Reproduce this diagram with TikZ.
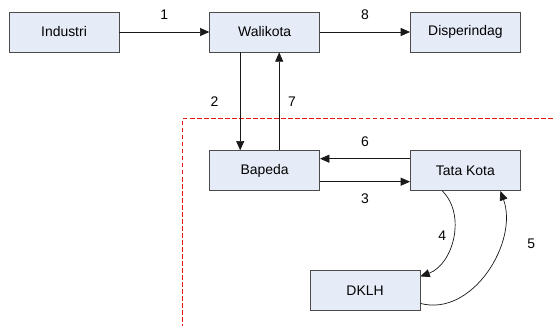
\documentclass[tikz,border=0pt]{standalone}
\usepackage{fontspec}
\setmainfont{Liberation Sans}
\usetikzlibrary{arrows.meta,
                calc, chains,
                quotes,
                positioning}
\definecolor{boxfill}{RGB}{230,236,247}
\definecolor{boxline}{RGB}{75,75,75}
\definecolor{lineclr}{RGB}{25,25,25}
\definecolor{borderred}{RGB}{235,20,20}

\begin{document}
\begin{tikzpicture}[
            node distance = 29.4mm and 27mm,
            start chain = A going right,
            font = \fontsize{11.9}{14}\selectfont,
            base/.style = {draw=boxline, fill=boxfill, line width=0.6pt,
                    minimum width=33mm, minimum height=12mm, align=center},
            toprow/.style = {base, on chain=A},
            link/.style = {draw=lineclr, line width=0.6pt,
                    arrows=-{Triangle[length=2.8mm, width=2.4mm]}},
            every edge quotes/.style = {midway, anchor=center, inner sep=0pt}]

        \node [toprow]          {Industri}; % A-1
        \node [toprow]          {Walikota}; % A-2
        \node [toprow]          {Disperindag}; % A-3

        % Bawah
        \node [base,
            below =of A-2] (B-1) {Bapeda};
        \node [base,
            right =of B-1] (B-2) {Tata Kota};
        \coordinate (mid) at ($(B-1.south)!0.5!(B-2.south)$);
        \node [base,
            below =23.7mm of mid] (C) {DKLH};

        % Batas
        \coordinate (NW) at ($(A-1.center)+(-1.92,0.96)$);
        \coordinate (SE) at ($(A-1.center)+(14.67,-8.82)$);
        \useasboundingbox (NW) rectangle (SE);
        \coordinate (corner) at ($(B-1.north west)+(-0.8,0.96)$);
        \draw [borderred, line width=1.3pt, dash pattern=on 4pt off 2pt]
        (corner -| SE) -- (corner) -- (corner |- SE);
        %%
        \path [every edge/.style={link}]
        (A-1) edge ["1" yshift=15pt] (A-2)
        (A-2) edge ["8" yshift=15pt] (A-3)
        ([xshift=-7.35mm] A-2.south) edge ["2" xshift=-22pt] ([xshift=-7.35mm] B-1.north)
        ([xshift=4.35mm] B-1.north) edge ["7" xshift=11pt] ([xshift=4.35mm] A-2.south)
        ([yshift=3.6mm] B-2.west) edge ["6" yshift=14.5pt] ([yshift=3.6mm] B-1.east)
        ([yshift=-3.3mm] B-1.east) edge ["3" yshift=-14.5pt] ([yshift=-3.3mm] B-2.west)
        ([xshift=-6.9mm] B-2.south) edge [out=-45, in=20, "4" shift={(-9pt,2pt)}] ([yshift=4.2mm] C.east)
        ([yshift=-3.9mm] C.east) edge [out=-15, in=-70, "5" shift={(38pt,24pt)}] ([xshift=10.5mm] B-2.south);
    \end{tikzpicture}
\end{document}
